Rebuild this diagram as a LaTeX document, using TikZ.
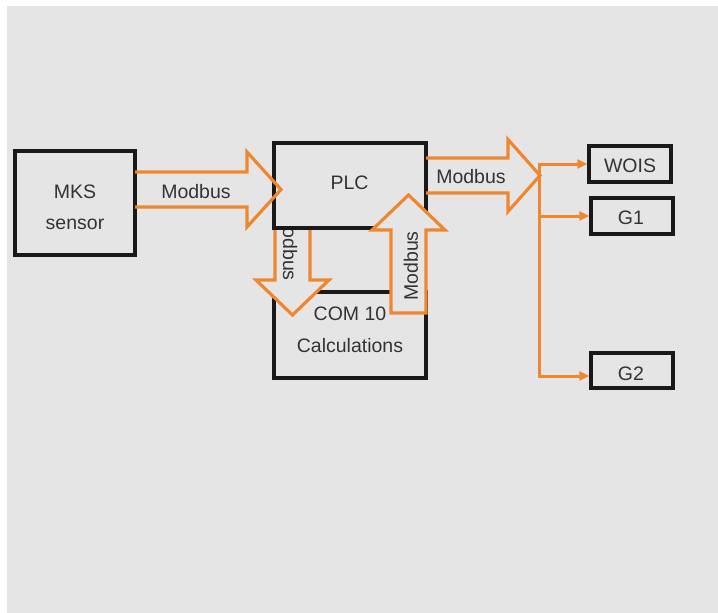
\documentclass[tikz,border=0pt]{standalone}
\usepackage{fontspec}
\setmainfont{Liberation Sans}
\usetikzlibrary{arrows.meta}
\definecolor{bg}{RGB}{229,229,229}
\definecolor{org}{RGB}{238,136,48}
\definecolor{txt}{RGB}{51,51,51}
\definecolor{edge}{RGB}{25,25,25}
\begin{document}
\begin{tikzpicture}[x=1pt,y=-1pt,
  box/.style={draw=edge,line width=3.2pt,fill=bg,inner sep=0pt},
  fat/.style={draw=org,line width=3.2pt,line join=miter},
  lbl/.style={text=txt,font=\fontsize{19.5}{23}\selectfont,inner sep=0pt},
  wire/.style={draw=org,line width=3pt},
  feed/.style={wire,-{Triangle[length=10pt,width=9pt]}}]
\useasboundingbox (0,0) rectangle (718,613);
\fill[white] (0,0) rectangle (718,613);
\fill[bg] (7,6) rectangle (718,613);
% boxes lower layer
\node[box,minimum width=152pt,minimum height=86pt] (com) at (350,335) {};
% down arrow (PLC -> COM)
\draw[fat,fill=bg] (275,200) -- (275,280) -- (256,280) -- (292.5,315) -- (329,280) -- (310,280) -- (310,200) -- cycle;
\node[lbl,rotate=-90] (mdown) at (290,246) {Modbus};
% PLC box
\node[box,minimum width=152pt,minimum height=85pt] (plc) at (350,185.5) {};
% right arrow from PLC
\draw[fat] (426,158) -- (508,158) -- (508,139.5) -- (540,175.5) -- (508,211.5) -- (508,193) -- (426,193);
% up arrow (COM -> PLC)
\draw[fat,fill=bg] (391,313) -- (391,230) -- (372,230) -- (408.5,195) -- (445,230) -- (426,230) -- (426,313) -- cycle;
\node[lbl,rotate=90] (mup) at (411,266) {Modbus};
% MKS box and arrow
\node[box,minimum width=120pt,minimum height=104pt] (mks) at (75,203) {};
\draw[fat] (135,172) -- (247,172) -- (247,152) -- (281,189.5) -- (247,227) -- (247,207) -- (135,207);
% targets
\node[box,minimum width=82pt,minimum height=36pt] (wois) at (630,164) {};
\node[box,minimum width=82pt,minimum height=36pt] (g1) at (632,216) {};
\node[box,minimum width=82pt,minimum height=35pt] (g2) at (632,370.5) {};
% labels
\node[lbl,anchor=base] (tmks) at (75,198) {MKS};
\node[lbl,anchor=base] (tsen) at (75,229) {sensor};
\node[lbl,anchor=base] (tm1) at (196,198) {Modbus};
\node[lbl,anchor=base] (tplc) at (349.5,189) {PLC};
\node[lbl,anchor=base] (tm2) at (471,183) {Modbus};
\node[lbl,anchor=base] (tcom) at (350,320) {COM 10};
\node[lbl,anchor=base] (tcal) at (350,352) {Calculations};
\node[lbl,anchor=base] (twois) at (630,172) {WOIS};
\node[lbl,anchor=base] (tg1) at (631,224) {G1};
\node[lbl,anchor=base] (tg2) at (631,380) {G2};
% bus
\coordinate (split) at (539,164);
\coordinate (b1) at (539,216);
\coordinate (b2) at (539,376);
\draw[feed] (b2) -- (split) -- (split -| wois.west);
\draw[feed] (split) -- (b2) -- (b2 -| g2.west);
\draw[feed] (b1) -- (b1 -| g1.west);
\end{tikzpicture}
\end{document}
